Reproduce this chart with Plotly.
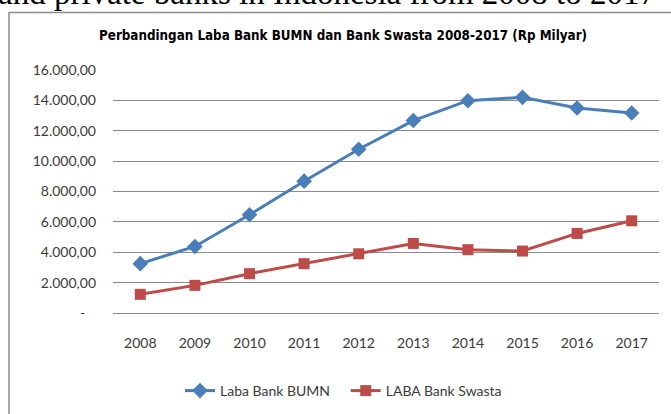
import plotly.graph_objects as go

years = ["2008", "2009", "2010", "2011", "2012", "2013", "2014", "2015", "2016", "2017"]
laba_bumn = [3250, 4380, 6470, 8680, 10780, 12670, 13980, 14200, 13500, 13170]
laba_swasta = [1230, 1820, 2590, 3250, 3900, 4580, 4170, 4080, 5240, 6070]
y_tickvals = [0, 2000, 4000, 6000, 8000, 10000, 12000, 14000, 16000]
y_ticktext = ["-\u00a0\u00a0\u00a0", "2.000,00", "4.000,00", "6.000,00", "8.000,00",
              "10.000,00", "12.000,00", "14.000,00", "16.000,00"]

W, H = 671, 414
L, R, T, B = 113, 12, 70, 101
pw, ph = W - L - R, H - T - B

def px(x):
    return (x - L) / pw

def py(y):
    return (H - B - y) / ph

fig = go.Figure()
fig.add_trace(go.Scatter(
    x=years, y=laba_bumn, name="Laba Bank BUMN\u00a0\u00a0\u00a0", mode="lines+markers",
    line=dict(color="#4A7EBB", width=3),
    marker=dict(symbol="diamond", size=12, color="#4A7EBB"),
))
fig.add_trace(go.Scatter(
    x=years, y=laba_swasta, name="LABA Bank Swasta", mode="lines+markers",
    line=dict(color="#BE4B48", width=3),
    marker=dict(symbol="square", size=11, color="#BE4B48"),
))

fig.update_layout(
    width=W, height=H,
    margin=dict(l=L, r=R, t=T, b=B, pad=0, autoexpand=False),
    paper_bgcolor="white", plot_bgcolor="white",
    font=dict(family="Lato, Arial, sans-serif", size=14, color="#3a3a3a"),
    showlegend=True,
    legend=dict(orientation="h", x=px(343.5), y=py(391), xanchor="center", yanchor="middle",
                font=dict(size=14, color="#3a3a3a"), itemwidth=30, tracegroupgap=0),
    xaxis=dict(type="category", showgrid=False, showline=False, ticks="",
               ticklabelstandoff=20, tickfont=dict(size=14, color="#3a3a3a"),
               range=[-0.5, 9.5], fixedrange=True),
    yaxis=dict(range=[0, 16000], tickvals=y_tickvals, ticktext=y_ticktext,
               showgrid=True, gridcolor="#8A8A8A", gridwidth=1,
               zeroline=True, zerolinecolor="#8A8A8A", zerolinewidth=1,
               showline=False, ticks="", ticklabelstandoff=16,
               tickfont=dict(size=14, color="#3a3a3a"), fixedrange=True),
    shapes=[dict(type="rect", xref="paper", yref="paper",
                 x0=px(9), x1=px(700), y0=py(460), y1=py(12.5),
                 line=dict(color="#8C8C8C", width=1.5), fillcolor="rgba(0,0,0,0)", layer="below")],
    annotations=[
        dict(text="<b>Perbandingan Laba Bank BUMN dan Bank Swasta 2008-2017 (Rp Milyar)</b>",
             xref="paper", yref="paper", x=px(343), y=py(35), xanchor="center", yanchor="middle",
             showarrow=False,
             font=dict(family="Liberation Sans Narrow, DejaVu Sans Condensed, Arial Narrow, sans-serif",
                       size=13.3, color="black")),
        dict(text="and private banks in Indonesia from 2008 to 2017",
             xref="paper", yref="paper", x=px(-4), y=py(-6.5), xanchor="left", yanchor="middle",
             showarrow=False,
             font=dict(family="Liberation Serif, Times New Roman, serif", size=33, color="black")),
    ],
)

fig.write_html("out.html", config={"displayModeBar": False},
               post_script="document.body.style.margin='0';document.body.style.overflow='hidden';")
